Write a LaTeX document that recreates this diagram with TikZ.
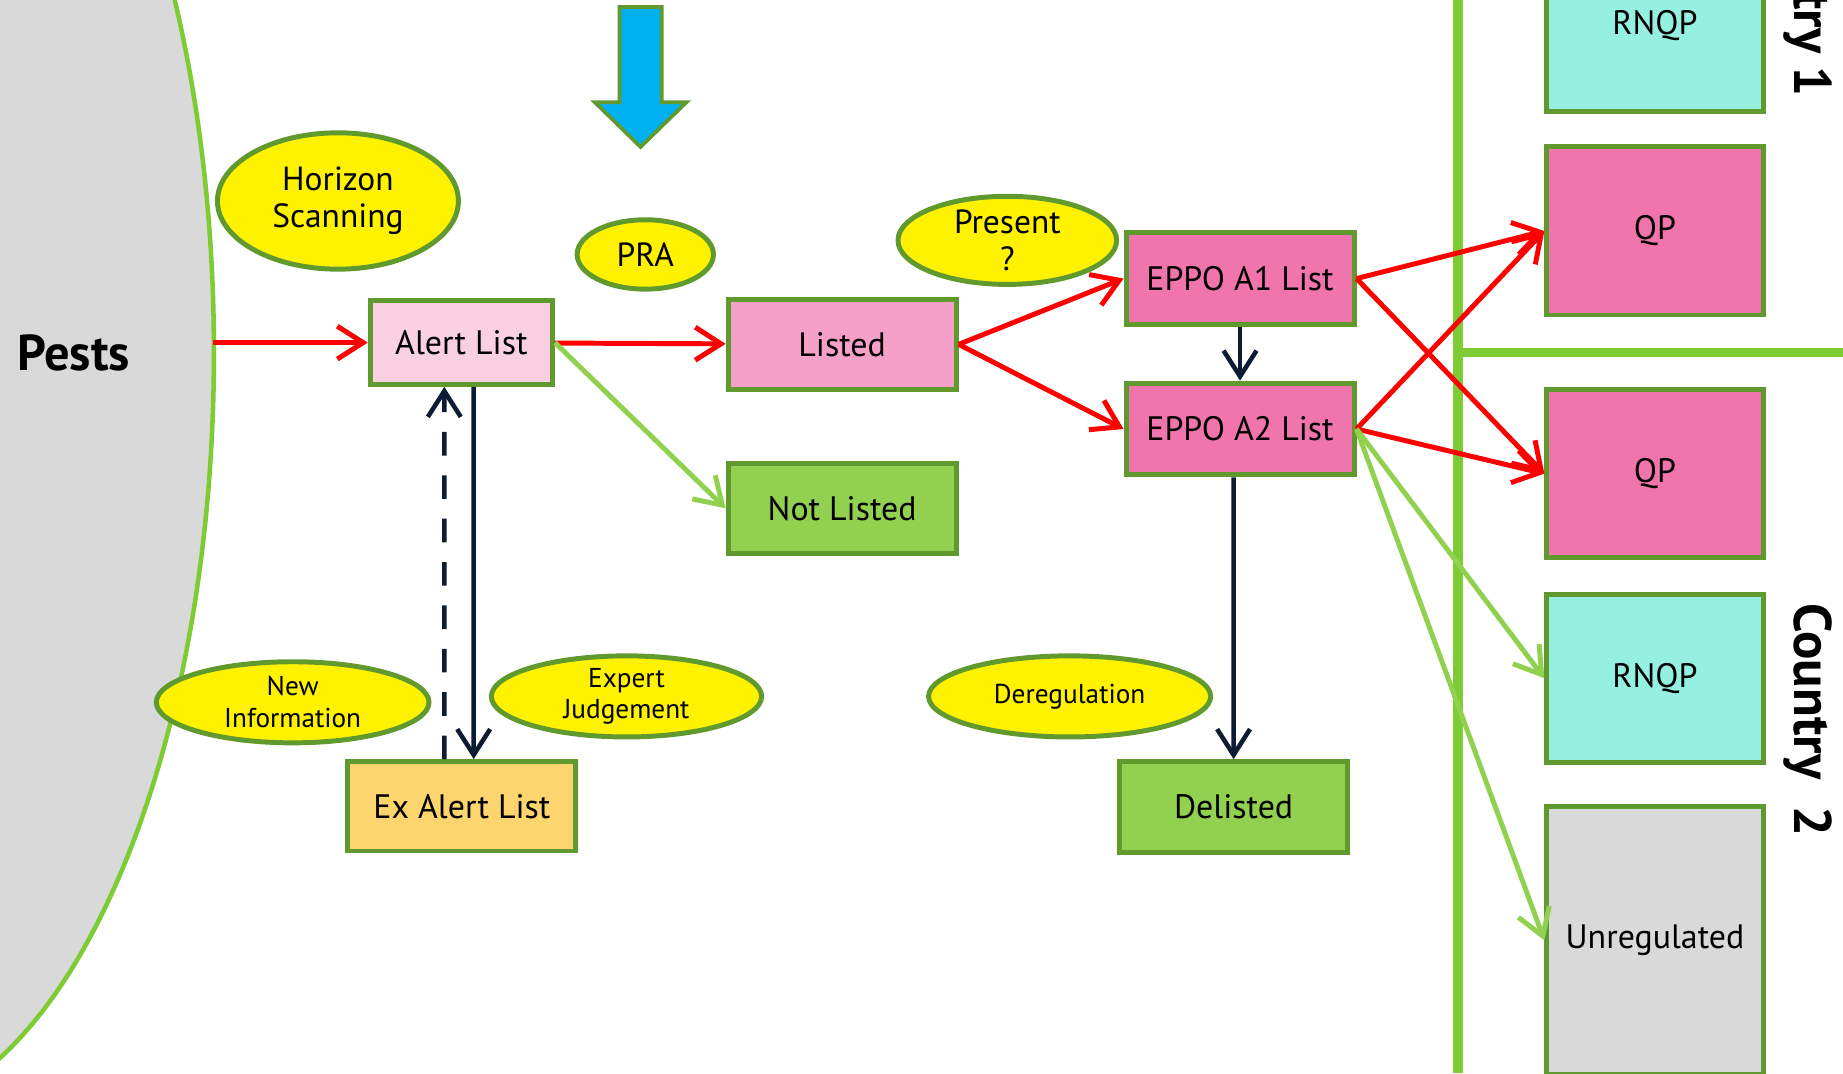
\documentclass[tikz,border=0pt]{standalone}
\usepackage{fontspec}
\setmainfont{PT Sans}
\usetikzlibrary{shapes.geometric,arrows.meta}
\definecolor{rimgreen}{RGB}{96,153,46}
\definecolor{linegreen}{RGB}{125,204,51}
\definecolor{leafgreen}{RGB}{146,208,80}
\definecolor{alertpink}{RGB}{249,207,226}
\definecolor{listpink}{RGB}{244,160,200}
\definecolor{eppopink}{RGB}{240,117,173}
\definecolor{rnqpcyan}{RGB}{150,240,226}
\definecolor{pestgray}{RGB}{217,217,217}
\definecolor{exorange}{RGB}{253,212,110}
\definecolor{navy}{RGB}{13,27,51}
\definecolor{skyblue}{RGB}{0,176,240}
\begin{document}
\begin{tikzpicture}[
   lbox/.style={draw=rimgreen,line width=1.2pt,inner sep=0pt,minimum width=1.94cm,minimum height=0.77cm,font=\fontsize{8.2}{9.8}\selectfont},
   cbox/.style={lbox,minimum width=1.84cm,minimum height=1.43cm},
   bubble/.style={ellipse,draw=rimgreen,line width=1.2pt,fill=yellow,inner sep=0pt,align=center,font=\fontsize{8.1}{9}\selectfont},
   small/.style={font=\fontsize{6.6}{7.7}\selectfont},
   country/.style={rotate=-90,anchor=base east,inner sep=0pt,font=\fontsize{12.8}{15}\selectfont\bfseries},
   redarr/.style={red,line width=1.2pt,-{Straight Barb[length=2.2mm,width=2.8mm]}},
   greenarr/.style={redarr,leafgreen},
   navyarr/.style={redarr,navy,line width=1.1pt},
   ]
   \useasboundingbox (0,0) rectangle (15.68,-9.13);
   \clip (0,0) rectangle (15.68,-9.13);
   % вредители
   \draw[linegreen,line width=1.1pt,fill=pestgray] (-1.14,-3.0) ellipse [x radius=2.96, y radius=6.5];
   \node[anchor=base west,inner sep=0pt,font=\fontsize{12.2}{14}\selectfont\bfseries] (pests) at (0.14,-3.15) {Pests};
   \coordinate (pestsedge) at (1.81,-2.915);
   \draw[rimgreen,line width=0.9pt,fill=skyblue] (5.27,-0.06) -- (5.63,-0.06) -- (5.63,-0.87) -- (5.84,-0.87)
   -- (5.45,-1.25) -- (5.06,-0.87) -- (5.27,-0.87) -- cycle;
   % страны
   \draw[linegreen,line width=0.08cm] (12.405,0) -- (12.405,-9.13);
   \draw[linegreen,line width=0.07cm] (12.405,-3.0) -- (15.68,-3.0);
   %
   \node[lbox,fill=alertpink,minimum width=1.55cm,minimum height=0.71cm] (alert) at (3.925,-2.915) {Alert List};
   \node[lbox,fill=listpink,minimum height=0.76cm] (listed) at (7.165,-2.93) {Listed};
   \node[lbox,fill=leafgreen] (notlisted) at (7.165,-4.325) {Not Listed};
   \node[lbox,fill=eppopink,minimum height=0.78cm] (eppoa) at (10.55,-2.37) {EPPO A1 List};
   \node[lbox,fill=eppopink,minimum height=0.78cm] (eppob) at (10.55,-3.65) {EPPO A2 List};
   \node[lbox,fill=leafgreen] (delisted) at (10.495,-6.865) {Delisted};
   \node[lbox,fill=exorange,minimum height=0.76cm] (exalert) at (3.93,-6.86) {Ex Alert List};
   %
   \node[cbox,fill=rnqpcyan,minimum height=1.46cm] (rnqpa) at (14.08,-0.22) {RNQP};
   \node[cbox,fill=eppopink] (qpa) at (14.08,-1.965) {QP};
   \node[cbox,fill=eppopink] (qpb) at (14.08,-4.03) {QP};
   \node[cbox,fill=rnqpcyan] (rnqpb) at (14.08,-5.77) {RNQP};
   \node[cbox,fill=pestgray,minimum height=2.28cm] (unreg) at (14.08,-8.0) {Unregulated};
   \node[country] (countrya) at (15.27,-0.83) {Country 1};
   \node[country] (countryb) at (15.27,-7.12) {Country\ \ 2};
   % эллипсы
   \node[bubble,minimum width=2.05cm,minimum height=1.16cm] (horizon) at (2.875,-1.71) {Horizon\\Scanning};
   \node[bubble,minimum width=1.16cm,minimum height=0.59cm] (pra) at (5.49,-2.165) {PRA};
   \node[bubble,minimum width=1.86cm,minimum height=0.75cm] (present) at (8.57,-2.045) {Present\\?};
   \node[bubble,small,minimum width=2.32cm,minimum height=0.69cm] (newinfo) at (2.49,-5.975) {New\\Information};
   \node[bubble,small,minimum width=2.30cm,minimum height=0.69cm] (expert) at (5.33,-5.925) {Expert\\Judgement};
   \node[bubble,small,minimum width=2.40cm,minimum height=0.69cm] (dereg) at (9.10,-5.925) {Deregulation};
   % стрелки
   \draw[redarr] (pestsedge) -- (alert);
   \draw[redarr] (alert) -- (listed);
   \draw[redarr] (listed.east) -- (eppoa.west);
   \draw[redarr] (listed.east) -- (eppob.west);
   \foreach \a in {eppoa,eppob}
   \foreach \q in {qpa,qpb}
   \draw[redarr] (\a.east) -- (\q.west);
   \draw[greenarr] (alert.east) -- (notlisted.west);
   \draw[greenarr] (eppob.east) -- (rnqpb.west);
   \draw[greenarr] (eppob.east) -- (unreg.west);
   \draw[navyarr] ([xshift=1.05mm]alert.south) -- ([xshift=1mm]exalert.north);
   \draw[navyarr,dash pattern=on 5.7pt off 4.8pt] ([xshift=-1.5mm]exalert.north) -- ([xshift=-1.45mm]alert.south);
   \draw[navyarr] (eppoa) -- (eppob);
   \draw[navyarr] ([xshift=-0.55mm]eppob.south) -- (delisted.north);
\end{tikzpicture}
\end{document}
